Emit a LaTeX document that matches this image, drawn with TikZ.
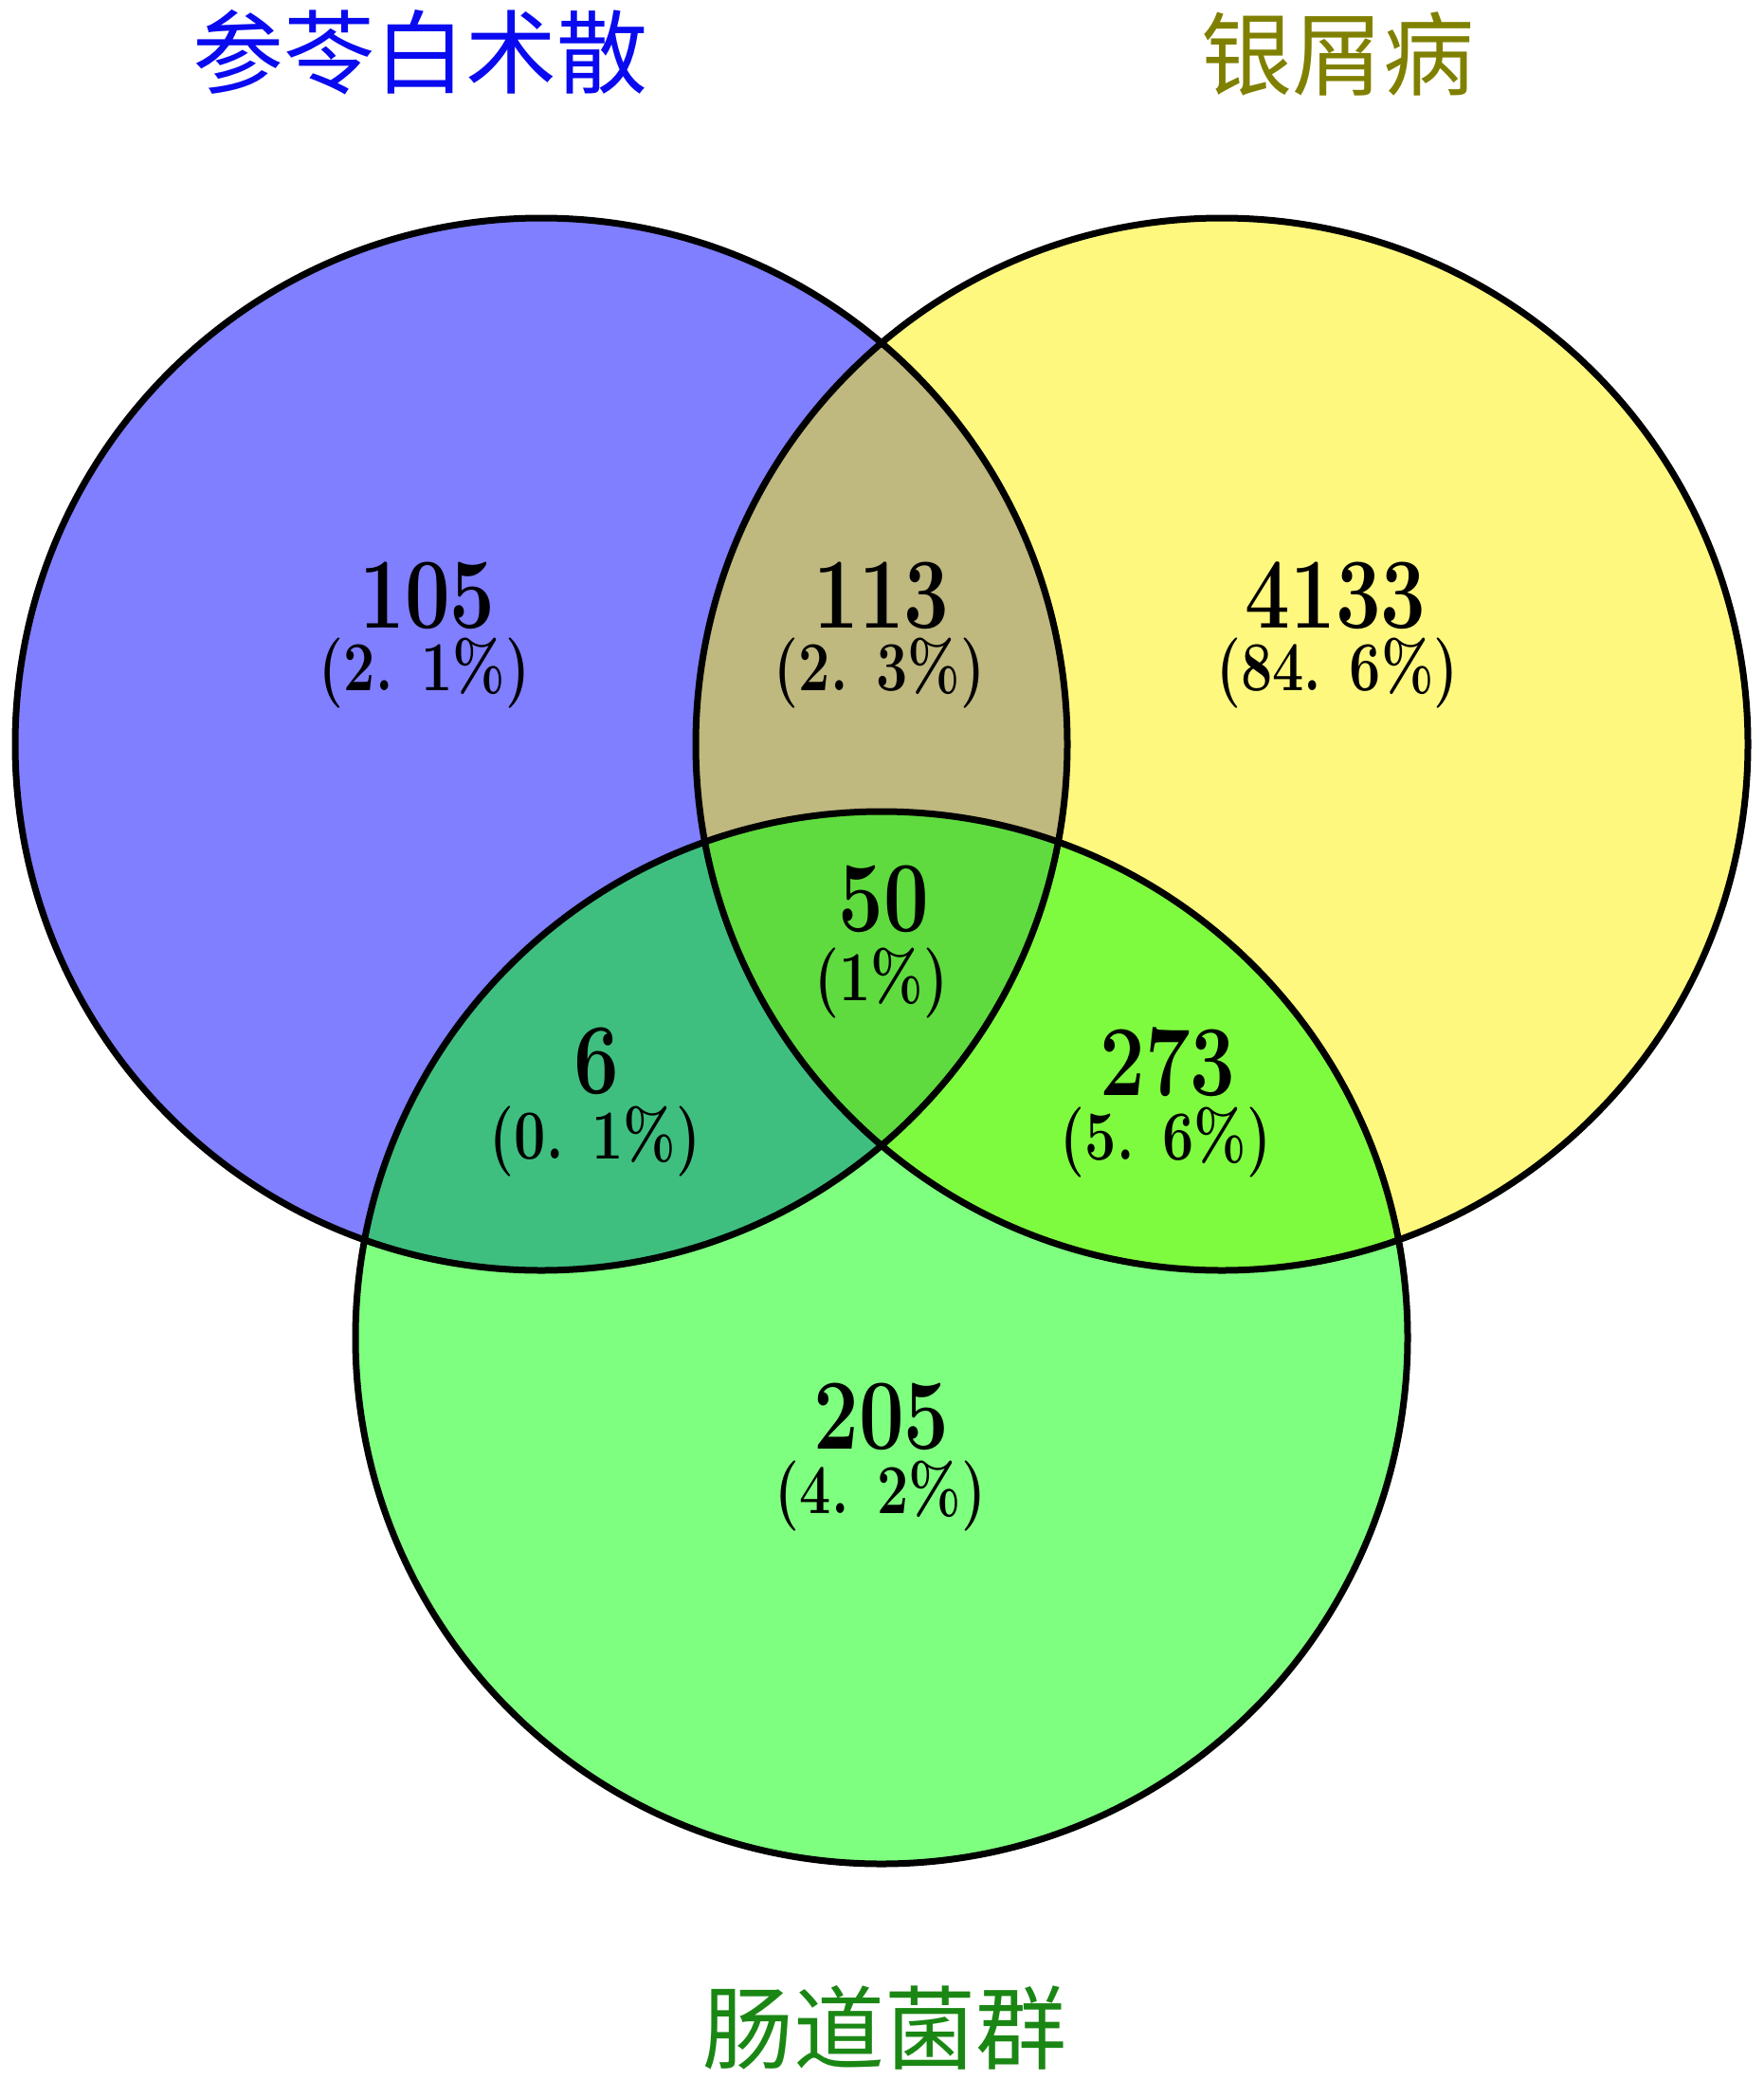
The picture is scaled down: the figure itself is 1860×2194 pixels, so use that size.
\documentclass[tikz,border=0pt]{standalone}
\usepackage{fontspec}
\usepackage{graphicx}
\newfontfamily\cjk{Noto Sans CJK SC}
\definecolor{titleblue}{RGB}{10,10,240}
\definecolor{titleolive}{RGB}{128,128,0}
\definecolor{titlegreen}{RGB}{26,135,20}
\newcommand{\sqz}[1]{\scalebox{0.8}[1]{#1}}
\tikzset{
  setfill/.style={fill opacity=0.5},
  ring/.style={circle, draw=black, line width=7pt, minimum size=1110pt, inner sep=0pt},
  numlbl/.style={anchor=base, inner sep=0pt, font=\fontsize{106}{106}\selectfont\bfseries},
  pctlbl/.style={anchor=base, inner sep=0pt, font=\fontsize{74}{74}\selectfont\bfseries},
  ttl/.style={inner sep=0pt, font=\cjk\fontsize{96}{96}\selectfont}
}
\begin{document}
\begin{tikzpicture}[x=1pt,y=-1pt]
\useasboundingbox[fill=white] (0,0) rectangle (1860,2194);
% fills
\fill[blue, setfill] (571,785) circle (555);
\fill[yellow, setfill] (1289,785) circle (555);
\fill[green, setfill] (930,1411) circle (555);
% outlines
\node[ring] (A) at (571,785) {};
\node[ring] (B) at (1289,785) {};
\node[ring] (C) at (930,1411) {};
% titles
\node[ttl, text=titleblue] (tA) at (443,55) {参苓白术散};
\node[ttl, text=titleolive] (tB) at (1411,57) {银屑病};
\node[ttl, text=titlegreen] (tC) at (933,2139) {肠道菌群};
% region labels
\node[numlbl] (n1) at (451,662) {\sqz{105}};
\node[pctlbl] (p1) at (448,728) {\sqz{(2. 1\%)}};
\node[numlbl] (n2) at (930,662) {\sqz{113}};
\node[pctlbl] (p2) at (928,728) {\sqz{(2. 3\%)}};
\node[numlbl] (n3) at (1409,662) {\sqz{4133}};
\node[pctlbl] (p3) at (1411,728) {\sqz{(84. 6\%)}};
\node[numlbl] (n4) at (932,982) {\sqz{50}};
\node[pctlbl] (p4) at (930,1055) {\sqz{(1\%)}};
\node[numlbl] (n5) at (629,1153) {\sqz{6}};
\node[pctlbl] (p5) at (628,1222) {\sqz{(0. 1\%)}};
\node[numlbl] (n6) at (1232,1155) {\sqz{273}};
\node[pctlbl] (p6) at (1230,1223) {\sqz{(5. 6\%)}};
\node[numlbl] (n7) at (930,1528) {\sqz{205}};
\node[pctlbl] (p7) at (929,1596) {\sqz{(4. 2\%)}};
\end{tikzpicture}
\end{document}
